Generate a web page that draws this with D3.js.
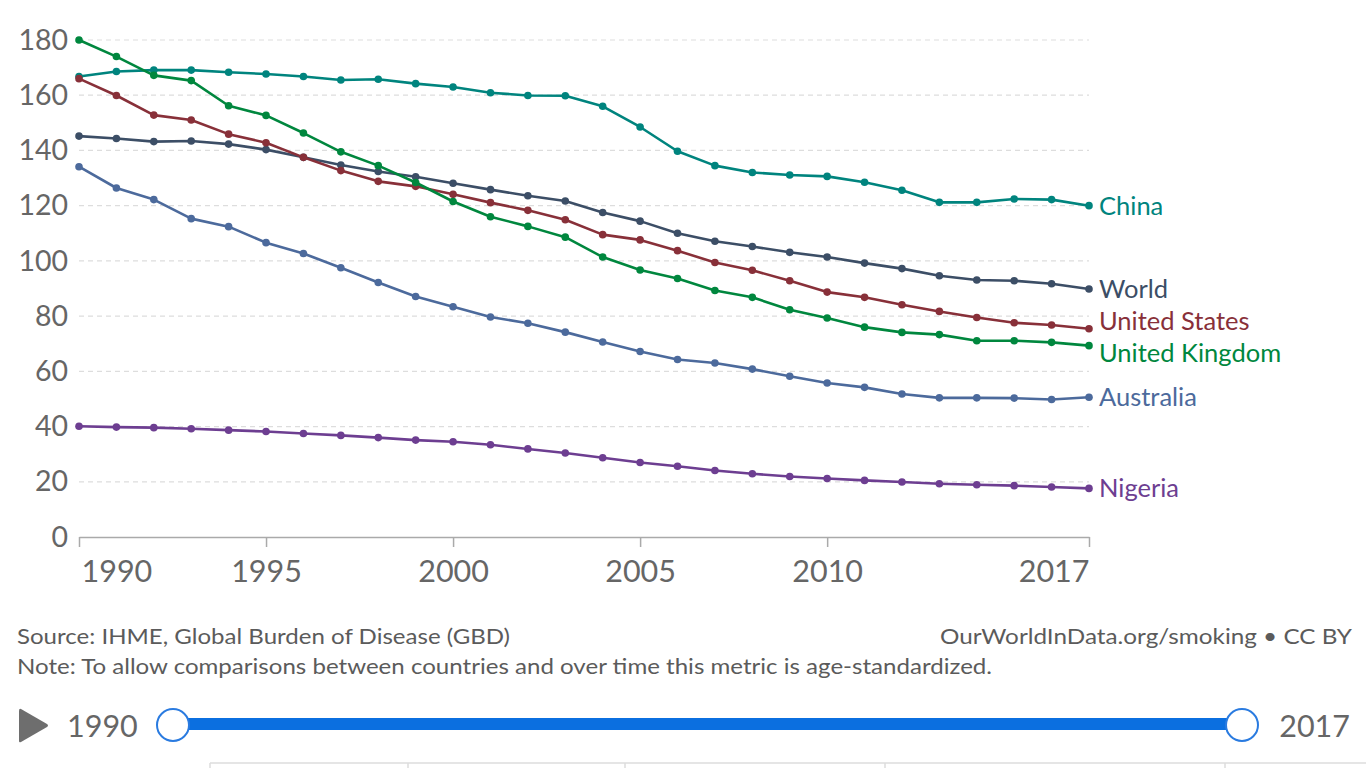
<!DOCTYPE html>
<html>
<head>
<meta charset="utf-8">
<script src="https://cdn.jsdelivr.net/npm/d3@7"></script>
<style>
  html, body { margin: 0; padding: 0; background: #fff; }
  svg { display: block; font-family: Lato, "Noto Sans", sans-serif; }
</style>
</head>
<body>
<svg id="chart" width="1366" height="768"></svg>
<script>
// ---------- data ----------
const years = d3.range(1990, 2018);
const seriesNames = ["China", "World", "United States", "United Kingdom", "Australia", "Nigeria"];
const china = [166.8,168.6,169.1,169.1,168.3,167.7,166.8,165.5,165.8,164.2,163.0,160.9,159.9,159.8,156.0,148.5,139.7,134.5,132.0,131.1,130.6,128.5,125.6,121.2,121.2,122.4,122.2,120.0];
const world = [145.2,144.3,143.2,143.4,142.3,140.3,137.5,134.7,132.4,130.5,128.1,125.8,123.6,121.7,117.5,114.4,110.0,107.1,105.2,103.1,101.4,99.2,97.2,94.6,93.1,92.8,91.7,89.8];
const unitedStates = [166.0,159.9,152.8,151.0,145.9,142.8,137.5,132.7,128.8,127.0,124.1,121.1,118.3,114.9,109.5,107.6,103.7,99.4,96.6,92.8,88.7,86.8,84.1,81.7,79.5,77.6,76.8,75.4];
const unitedKingdom = [180.0,174.0,167.2,165.3,156.2,152.7,146.3,139.5,134.5,128.4,121.5,116.0,112.5,108.6,101.4,96.7,93.6,89.3,86.8,82.3,79.3,76.0,74.1,73.3,71.1,71.1,70.5,69.3];
const australia = [134.1,126.4,122.2,115.3,112.4,106.6,102.7,97.5,92.2,87.1,83.4,79.7,77.4,74.2,70.6,67.2,64.3,63.0,60.8,58.2,55.8,54.2,51.8,50.4,50.4,50.3,49.8,50.6];
const nigeria = [40.1,39.8,39.6,39.2,38.7,38.2,37.5,36.8,36.0,35.1,34.5,33.4,31.9,30.4,28.7,27.0,25.6,24.1,22.9,21.9,21.2,20.5,19.9,19.3,18.9,18.6,18.1,17.6];
const seriesValues = [china, world, unitedStates, unitedKingdom, australia, nigeria];
const seriesColors = ["#00847E", "#3C4E66", "#883039", "#00873E", "#4C6A9C", "#6D3E91"];
const yTicks = [0, 20, 40, 60, 80, 100, 120, 140, 160, 180];
const xTicks = [1990, 1995, 2000, 2005, 2010, 2017];
const sourceText = "Source: IHME, Global Burden of Disease (GBD)";
const noteText = "Note: To allow comparisons between countries and over time this metric is age-standardized.";
const creditText = "OurWorldInData.org/smoking \u2022 CC BY";
const timelineStart = "1990", timelineEnd = "2017";

// ---------- layout ----------
const svg = d3.select("#chart");
const x = d3.scaleLinear().domain([1990, 2017]).range([79, 1089]);
const y = d3.scaleLinear().domain([0, 180]).range([537, 40]);
const textGray = "#666";

// grid lines
const grid = svg.append("g");
grid.selectAll("line").data(yTicks.filter(d => d > 0)).join("line")
  .attr("x1", x(1990)).attr("x2", x(2017))
  .attr("y1", d => y(d)).attr("y2", d => y(d))
  .attr("stroke", "#dddddd").attr("stroke-width", 1.2)
  .attr("stroke-dasharray", "5,4");

// y axis labels
const yAxis = d3.axisLeft(y).tickValues(yTicks).tickSize(0).tickPadding(11);
const gy = svg.append("g").attr("transform", `translate(${x(1990)},0)`).call(yAxis);
gy.select(".domain").remove();
gy.selectAll("text").attr("fill", textGray).attr("font-size", 28.5).attr("font-family", "Lato");

// x axis
const xAxis = d3.axisBottom(x).tickValues(xTicks).tickFormat(d3.format("d")).tickSize(10).tickSizeOuter(0).tickPadding(13);
const gx = svg.append("g").attr("transform", `translate(0,${y(0)})`).call(xAxis);
gx.select(".domain").attr("stroke", "#aaa").attr("stroke-width", 1.5);
gx.selectAll(".tick line").attr("stroke", "#aaa").attr("stroke-width", 1.5);
gx.selectAll("text").attr("fill", textGray).attr("font-size", 30.5).attr("font-family", "Lato")
  .attr("text-anchor", d => d === 1990 ? "start" : (d === 2017 ? "end" : "middle"))
  .attr("dx", d => d === 1990 ? 2 : 0);

// lines
const line = d3.line().x((d, i) => x(years[i])).y(d => y(d));
seriesNames.forEach((name, si) => {
  const g = svg.append("g");
  g.append("path").datum(seriesValues[si])
    .attr("d", line).attr("fill", "none")
    .attr("stroke", seriesColors[si]).attr("stroke-width", 2.6)
    .attr("stroke-linejoin", "round");
  g.selectAll("circle").data(seriesValues[si]).join("circle")
    .attr("cx", (d, i) => x(years[i])).attr("cy", d => y(d))
    .attr("r", 3.8).attr("fill", seriesColors[si]);
});

// end labels with simple collision relaxation
const labels = seriesNames.map((name, si) => ({
  name, color: seriesColors[si], target: y(seriesValues[si][seriesValues[si].length - 1])
}));
labels.forEach(l => l.pos = l.target);
const minGap = 32;
for (let iter = 0; iter < 200; iter++) {
  labels.sort((a, b) => a.pos - b.pos);
  for (let i = 1; i < labels.length; i++) {
    const overlap = minGap - (labels[i].pos - labels[i - 1].pos);
    if (overlap > 0) {
      labels[i].pos += overlap / 2;
      labels[i - 1].pos -= overlap / 2;
    }
  }
}
svg.append("g").selectAll("text").data(labels).join("text")
  .attr("x", x(2017) + 10).attr("y", d => d.pos)
  .attr("dy", "0.35em")
  .attr("fill", d => d.color).attr("font-size", 25.5).attr("font-family", "Lato")
  .text(d => d.name);

// footer (reference glyphs are slightly wider, so fit to measured widths)
const foot = svg.append("g").attr("font-family", "Lato").attr("font-size", 22).attr("fill", "#5b5b5b");
foot.append("text").attr("x", 17).attr("y", 644).attr("textLength", 493).attr("lengthAdjust", "spacingAndGlyphs").text(sourceText);
foot.append("text").attr("x", 17).attr("y", 674).attr("textLength", 975).attr("lengthAdjust", "spacingAndGlyphs").text(noteText);
foot.append("text").attr("x", 940).attr("y", 644).attr("textLength", 412).attr("lengthAdjust", "spacingAndGlyphs").text(creditText);

// timeline
const tl = svg.append("g");
tl.append("path").attr("d", "M21,709 L47,724 Q49,725.5 47,727 L21,742 Q19,743 19,741 L19,711 Q19,708 21,709 Z")
  .attr("fill", "#6e6e6e");
tl.append("text").attr("x", 67).attr("y", 737).attr("font-family", "Lato").attr("font-size", 30.5)
  .attr("fill", textGray).text(timelineStart);
tl.append("text").attr("x", 1350).attr("y", 737).attr("text-anchor", "end").attr("font-family", "Lato")
  .attr("font-size", 30.5).attr("fill", textGray).text(timelineEnd);
tl.append("rect").attr("x", 173).attr("y", 718).attr("width", 1242 - 173).attr("height", 12)
  .attr("fill", "#0b6fe0");
[173, 1242].forEach(cx => {
  tl.append("circle").attr("cx", cx).attr("cy", 725).attr("r", 16)
    .attr("fill", "#fff").attr("stroke", "#2a7be0").attr("stroke-width", 2);
});

// tab strip (partially visible at bottom)
const tabs = svg.append("g").attr("stroke", "#dddddd").attr("stroke-width", 1.5);
tabs.append("line").attr("x1", 210).attr("x2", 1366).attr("y1", 763).attr("y2", 763);
[210, 408, 625, 885, 1225].forEach(tx => {
  tabs.append("line").attr("x1", tx).attr("x2", tx).attr("y1", 763).attr("y2", 768);
});
</script>
</body>
</html>
